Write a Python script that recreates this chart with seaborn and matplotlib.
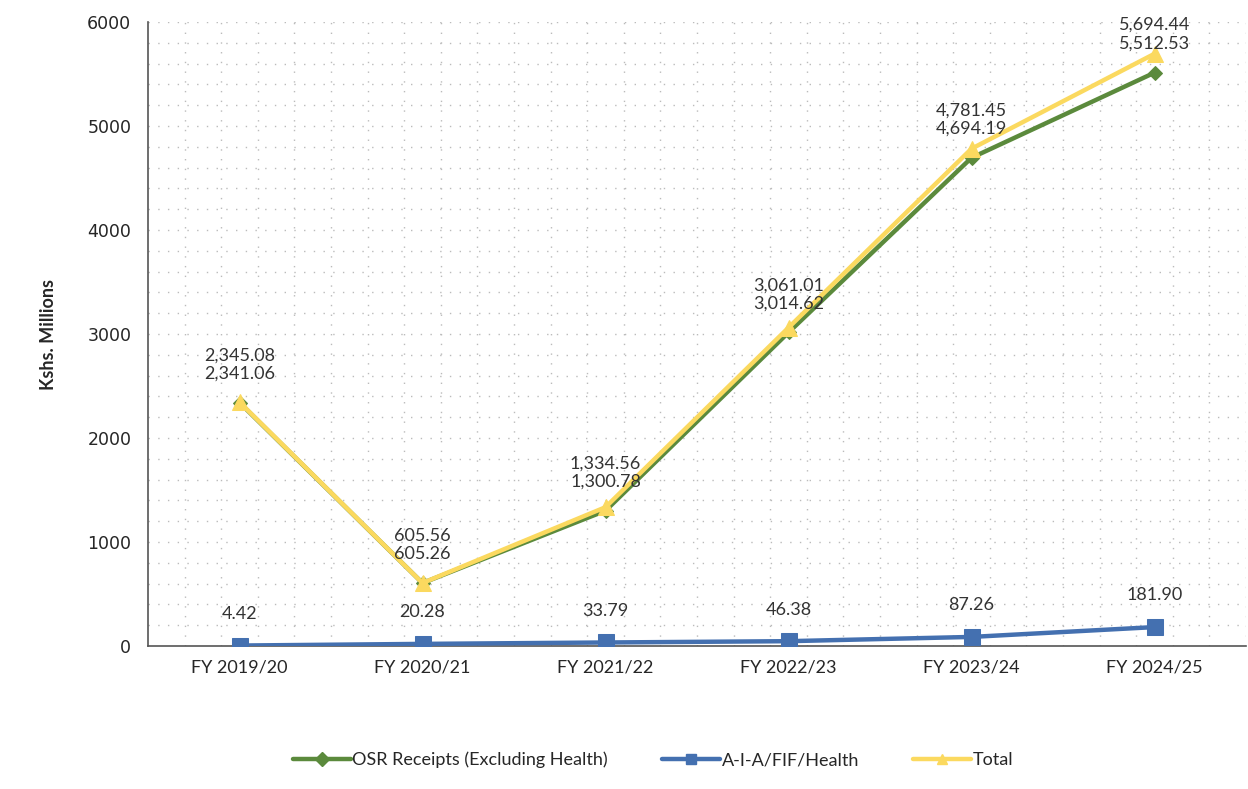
import matplotlib
matplotlib.use("Agg")
import matplotlib.pyplot as plt
import seaborn as sns
import pandas as pd
from matplotlib.ticker import FixedLocator
from matplotlib.lines import Line2D

categories = ["FY 2019/20", "FY 2020/21", "FY 2021/22", "FY 2022/23", "FY 2023/24", "FY 2024/25"]
osr = [2341.06, 605.26, 1300.78, 3014.62, 4694.19, 5512.53]
aia = [4.42, 20.28, 33.79, 46.38, 87.26, 181.90]
total = [2345.08, 605.56, 1334.56, 3061.01, 4781.45, 5694.44]

series_names = ["OSR Receipts (Excluding Health)", "A-I-A/FIF/Health", "Total"]
colors = ["#5b8a3c", "#4470b0", "#fbd95f"]
markers = ["D", "s", "^"]

sns.set_theme(style="white")
plt.rcParams['font.family'] = ['Lato', 'DejaVu Sans']

df = pd.DataFrame({
    "cat": categories * 3,
    "x": list(range(len(categories))) * 3,
    "value": osr + aia + total,
    "series": [series_names[0]] * 6 + [series_names[1]] * 6 + [series_names[2]] * 6,
})

fig = plt.figure(figsize=(12.48, 7.89), dpi=100)
ax = fig.add_axes([148 / 1248, 1 - 646 / 789, (1246 - 148) / 1248, (646 - 22) / 789])

sizes = {"D": 7, "s": 12, "^": 12}
for name, col, mk in zip(series_names, colors, markers):
    sub = df[df["series"] == name]
    sns.lineplot(data=sub, x="x", y="value", ax=ax, color=col, linewidth=3.2,
                 marker=mk, markersize=sizes[mk], markeredgecolor=col,
                 legend=False, zorder=3 if name != "Total" else 4)

ax.set_xlim(-0.5, 5.5)
ax.set_ylim(0, 6000)
ax.set_yticks([0, 1000, 2000, 3000, 4000, 5000, 6000])
ax.set_yticklabels(["0", "1000", "2000", "3000", "4000", "5000", "6000"],
                   family="DejaVu Sans", fontsize=12.5)
ax.xaxis.set_major_locator(FixedLocator([i - 0.5 for i in range(7)]))
ax.set_xticklabels([])
ax.xaxis.set_minor_locator(FixedLocator(list(range(6))))
ax.set_xticklabels(categories, minor=True, fontsize=13)
ax.tick_params(axis="x", which="minor", length=0, pad=10)
ax.tick_params(axis="x", which="major", length=6, direction="out", color="#555555")
ax.tick_params(axis="y", length=6, direction="out", color="#555555", pad=6)
ax.set_xlabel("")
ax.set_ylabel("Kshs. Millions", fontsize=13, fontweight="bold", labelpad=22)

for s in ["top", "right"]:
    ax.spines[s].set_visible(False)
for s in ["left", "bottom"]:
    ax.spines[s].set_color("#555555")
    ax.spines[s].set_linewidth(1.2)

# dotted grids
for yv in range(200, 6001, 200):
    ax.axhline(yv, color="#bbbbbb", linestyle=(0, (1, 6)), linewidth=1.0, zorder=0)
xs = [i * 0.2 - 0.5 for i in range(1, 31)]
for xv in xs:
    ax.axvline(xv, color="#bbbbbb", linestyle=(0, (1, 6)), linewidth=1.0, zorder=0)

# data labels: OSR label just above its point, Total label stacked above it if they collide
px_per_unit = (646 - 22) / 6000.0
pt_per_px = 72 / 100.0
gap_pt = 15
line_h_pt = 13
for i in range(6):
    ax.annotate(f"{osr[i]:,.2f}", (i, osr[i]), xytext=(0, gap_pt), textcoords="offset points",
                ha="center", va="bottom", fontsize=13, color="#333333", zorder=6)
    diff_pt = (total[i] - osr[i]) * px_per_unit * pt_per_px
    tot_off = max(gap_pt, gap_pt + line_h_pt - diff_pt)
    ax.annotate(f"{total[i]:,.2f}", (i, total[i]), xytext=(0, tot_off), textcoords="offset points",
                ha="center", va="bottom", fontsize=13, color="#333333", zorder=6)
    ax.annotate(f"{aia[i]:,.2f}", (i, aia[i]), xytext=(0, 17), textcoords="offset points",
                ha="center", va="bottom", fontsize=13, color="#333333", zorder=6)

handles = [Line2D([], [], color=c, marker=m, markersize=7, markeredgecolor=c, linewidth=3.2)
           for c, m in zip(colors, markers)]
ax.legend(handles, series_names, loc="center", bbox_to_anchor=(0.5 - 0.04, -0.183), ncol=3,
          frameon=False, fontsize=13, handlelength=3.2, columnspacing=3.0, handletextpad=0.1)

fig.savefig("out.png", dpi=100)
